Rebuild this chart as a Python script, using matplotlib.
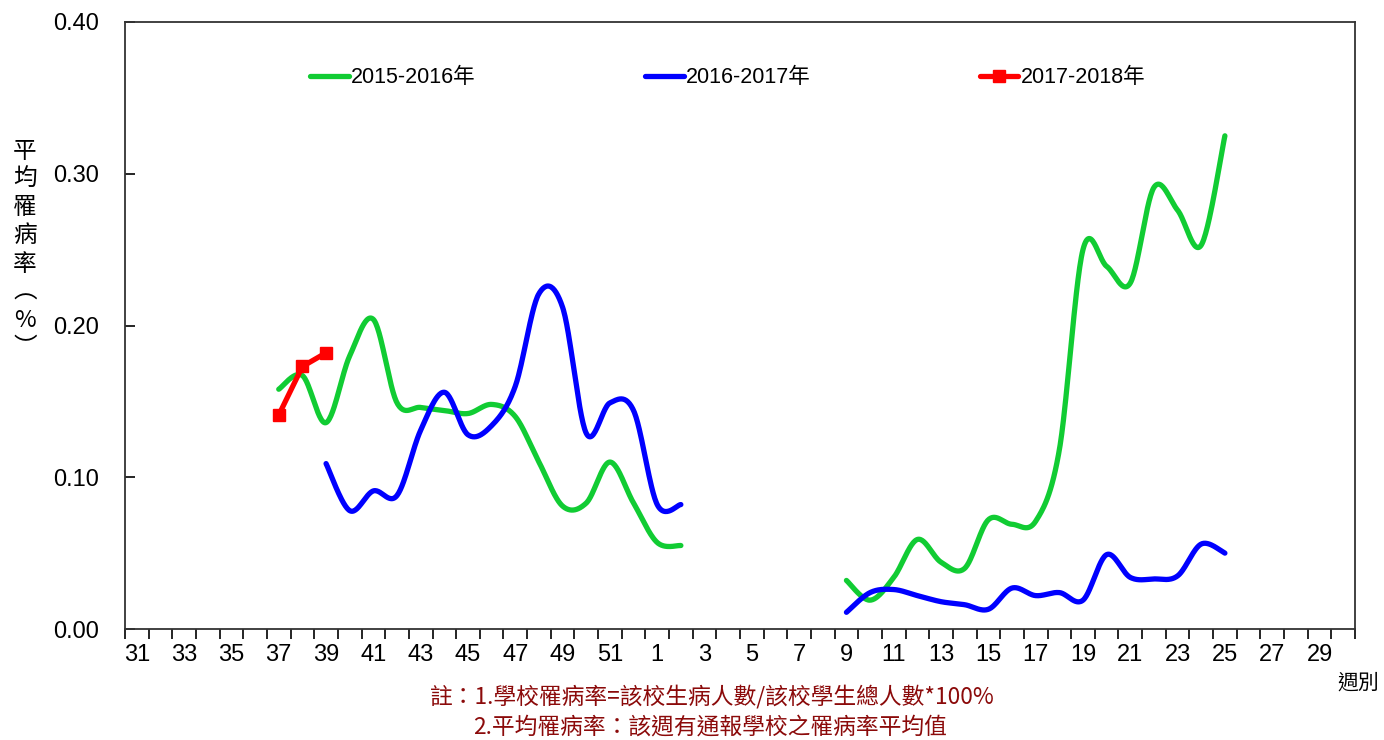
import numpy as np
import matplotlib
matplotlib.use("Agg")
import matplotlib.pyplot as plt

nan = np.nan

# week categories on the x axis (week 31 of one year to week 30 of the next)
weeks = list(range(31, 53)) + list(range(1, 31))

# 2015-2016 season, by week
wk_1516 = [37, 38, 39, 40, 41, 42, 43, 44, 45, 46, 47, 48, 49, 50, 51, 52, 1, 2,
           9, 10, 11, 12, 13, 14, 15, 16, 17, 18, 19, 20, 21, 22, 23, 24, 25]
val_1516 = [0.158, 0.167, 0.136, 0.180, 0.204, 0.149, 0.146, 0.144, 0.142, 0.148,
            0.140, 0.110, 0.081, 0.083, 0.110, 0.083, 0.057, 0.055,
            0.032, 0.019, 0.034, 0.059, 0.044, 0.040, 0.072, 0.069, 0.071, 0.118,
            0.250, 0.239, 0.228, 0.291, 0.276, 0.253, 0.325]

# 2016-2017 season
wk_1617 = [39, 40, 41, 42, 43, 44, 45, 46, 47, 48, 49, 50, 51, 52, 1, 2,
           9, 10, 11, 12, 13, 14, 15, 16, 17, 18, 19, 20, 21, 22, 23, 24, 25]
val_1617 = [0.109, 0.078, 0.091, 0.088, 0.131, 0.156, 0.128, 0.134, 0.160, 0.221,
            0.212, 0.129, 0.149, 0.144, 0.082, 0.082,
            0.011, 0.024, 0.026, 0.022, 0.018, 0.016, 0.013, 0.027, 0.022, 0.024,
            0.019, 0.049, 0.034, 0.033, 0.035, 0.056, 0.050]

# 2017-2018 season
wk_1718 = [37, 38, 39]
val_1718 = [0.141, 0.173, 0.182]

labels = ["2015-2016年", "2016-2017年", "2017-2018年"]


def to_series(wk, vals):
    y = np.full(len(weeks), nan)
    for w, v in zip(wk, vals):
        y[weeks.index(w)] = v
    return y


def smooth(y, n=30):
    # excel-like smoothed line: bezier with control points from neighbours
    xs, ys = [], []
    ok = ~np.isnan(y)
    runs, cur = [], []
    for i in range(len(y)):
        if ok[i]:
            cur.append(i)
        elif cur:
            runs.append(cur)
            cur = []
    if cur:
        runs.append(cur)
    for r in runs:
        px = np.array(r, float)
        py = y[r]
        m = len(px)
        for k in range(m - 1):
            p0 = np.array([px[max(k - 1, 0)], py[max(k - 1, 0)]])
            p1 = np.array([px[k], py[k]])
            p2 = np.array([px[k + 1], py[k + 1]])
            p3 = np.array([px[min(k + 2, m - 1)], py[min(k + 2, m - 1)]])
            c1 = p1 + (p2 - p0) / 6
            c2 = p2 - (p3 - p1) / 6
            t = np.linspace(0, 1, n)[:, None]
            b = (1 - t) ** 3 * p1 + 3 * (1 - t) ** 2 * t * c1 + 3 * (1 - t) * t ** 2 * c2 + t ** 3 * p2
            xs.extend(b[:, 0])
            ys.extend(b[:, 1])
        xs.append(nan)
        ys.append(nan)
    return np.array(xs), np.array(ys)


s1516 = to_series(wk_1516, val_1516)
s1617 = to_series(wk_1617, val_1617)
s1718 = to_series(wk_1718, val_1718)

latin = ["Liberation Sans", "Noto Sans CJK TC"]
cjk = ["Noto Sans CJK TC", "Liberation Sans"]
plt.rcParams["font.family"] = latin

fig = plt.figure(figsize=(13.84, 7.4), dpi=100)
ax = fig.add_axes([125 / 1384, 1 - 629 / 740, 1230 / 1384, 607 / 740])

x1, y1 = smooth(s1516)
x2, y2 = smooth(s1617)
l1, = ax.plot(x1, y1, color="#11CC33", lw=3.8, solid_capstyle="round", label=labels[0])
l2, = ax.plot(x2, y2, color="#0000FF", lw=3.8, solid_capstyle="round", label=labels[1])
l3, = ax.plot(np.arange(len(weeks)), s1718, color="#FF0000", lw=3.8, marker="s", ms=8,
              solid_capstyle="round", label=labels[2])

ax.set_xlim(-0.5, len(weeks) - 0.5)
ax.set_ylim(0, 0.40)
ax.set_yticks(np.arange(0, 0.41, 0.1))
ax.set_yticklabels([f"{v:.2f}" for v in np.arange(0, 0.41, 0.1)], fontsize=17)
ax.tick_params(axis="y", direction="in", length=7, width=1.2, pad=19)

pos = np.arange(0, len(weeks), 2)
ax.set_xticks(pos)
ax.set_xticklabels([str(weeks[i]) for i in pos], fontsize=17)
ax.set_xticks(np.arange(-0.5, len(weeks)), minor=True)
ax.tick_params(axis="x", which="major", length=0, pad=11)
ax.tick_params(axis="x", which="minor", direction="out", length=7, width=1.2)

for sp in ax.spines.values():
    sp.set_color("#333333")
    sp.set_linewidth(1.3)

ax.legend(handles=[l1, l2, l3], ncol=3, loc="center", bbox_to_anchor=(0.49, 0.908),
          frameon=False, fontsize=15.5, handlelength=1.8, handletextpad=0.1,
          columnspacing=7.85)

fig.text(25 / 1384, 1 - 250 / 740, "\n".join("平均罹病率︵%︶"), family=cjk, fontsize=17,
         ha="center", va="center", linespacing=1.28)
fig.text(1358 / 1384, 1 - 683 / 740, "週別", family=cjk, fontsize=15, ha="center", va="center")

note_color = "#8B0A0A"
fig.text(712 / 1384, 1 - 697 / 740, "註：1.學校罹病率=該校生病人數/該校學生總人數*100%",
         family=cjk, fontsize=16.4, color=note_color, ha="center", va="center")
fig.text(710 / 1384, 1 - 727 / 740, "2.平均罹病率：該週有通報學校之罹病率平均值",
         family=cjk, fontsize=16.4, color=note_color, ha="center", va="center")

fig.savefig("out.png", dpi=100)
